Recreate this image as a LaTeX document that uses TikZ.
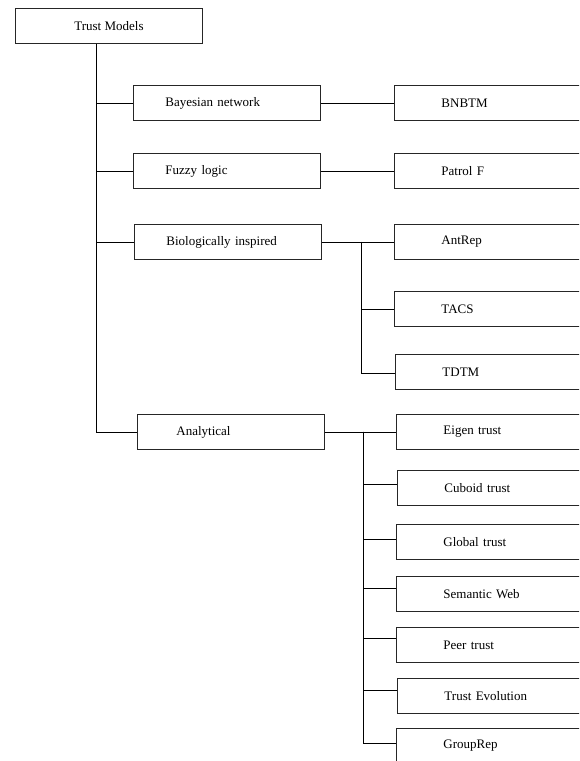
\documentclass[tikz,border=0pt]{standalone}
\usepackage{fontspec}
\setmainfont{Liberation Serif}
\usetikzlibrary{positioning}

\begin{document}
\begin{tikzpicture}[-,x=1pt,y=-1pt,line width=0.9pt,
    font=\fontsize{13}{15}\selectfont,
    box/.style={draw=black!85, rectangle, anchor=north west, minimum height=35pt, inner ysep=0pt},
    rootbox/.style={box, minimum width=187pt},
    midbox/.style={box, text width=123pt, inner xsep=32pt, align=left},
    leafbox/.style={box, text width=134pt, inner xsep=47pt, align=left},
    elbow/.style={to path={|- (\tikztotarget)}}]
  \useasboundingbox (0,0) rectangle (579,761);
  \clip (0,0) rectangle (579,761);
  \node (TM) [rootbox] at (15,8) {Trust Models};
  \node (BN) [midbox] at (133,85) {Bayesian network};
  \node (FL) [midbox] at (133,153) {Fuzzy logic};
  \node (BI) [midbox] at (134,224) {Biologically inspired};
  \node (AN) [midbox, inner xsep=39pt, text width=109pt] at (137,414) {Analytical};
  % leaves
  \node (BNBTM) [leafbox] at (394,85) {BNBTM};
  \node (PF) [leafbox] at (394,153) {Patrol F};
  \node (AR) [leafbox] at (394,224) {AntRep};
  \node (TACS) [leafbox] at (394,291) {TACS};
  \node (TDTM) [leafbox] at (395,354) {TDTM};
  \node (ET) [leafbox] at (396,414) {Eigen trust};
  \node (CT) [leafbox] at (397,470) {Cuboid trust};
  \node (GT) [leafbox] at (396,524) {Global trust};
  \node (SW) [leafbox] at (396,576) {Semantic Web};
  \node (PT) [leafbox] at (396,627) {Peer trust};
  \node (TE) [leafbox] at (397,678) {Trust Evolution};
  \node (GR) [leafbox] at (396,728) {GroupRep};
  \coordinate (t) at ([xshift=-13pt]TM.south);
  \coordinate (b) at ([xshift=40pt]BI.east);
  \coordinate (a) at ([xshift=39pt]AN.east);
  \path (t) edge[elbow] (BN.west)
            edge[elbow] (FL.west)
            edge[elbow] (BI.west)
            edge[elbow] (AN.west)
        (BN) edge (BNBTM)
        (FL) edge (PF)
        (BI) edge (AR)
        (b) edge[elbow] (TACS.west)
            edge[elbow] ([yshift=-1pt]TDTM.west)
        (AN) edge (ET)
        (a) edge[elbow] ([yshift=4pt]CT.west)
            edge[elbow] ([yshift=3pt]GT.west)
            edge[elbow] ([yshift=6pt]SW.west)
            edge[elbow] ([yshift=7pt]PT.west)
            edge[elbow] ([yshift=6pt]TE.west)
            edge[elbow] ([yshift=3pt]GR.west);
\end{tikzpicture}
\end{document}
